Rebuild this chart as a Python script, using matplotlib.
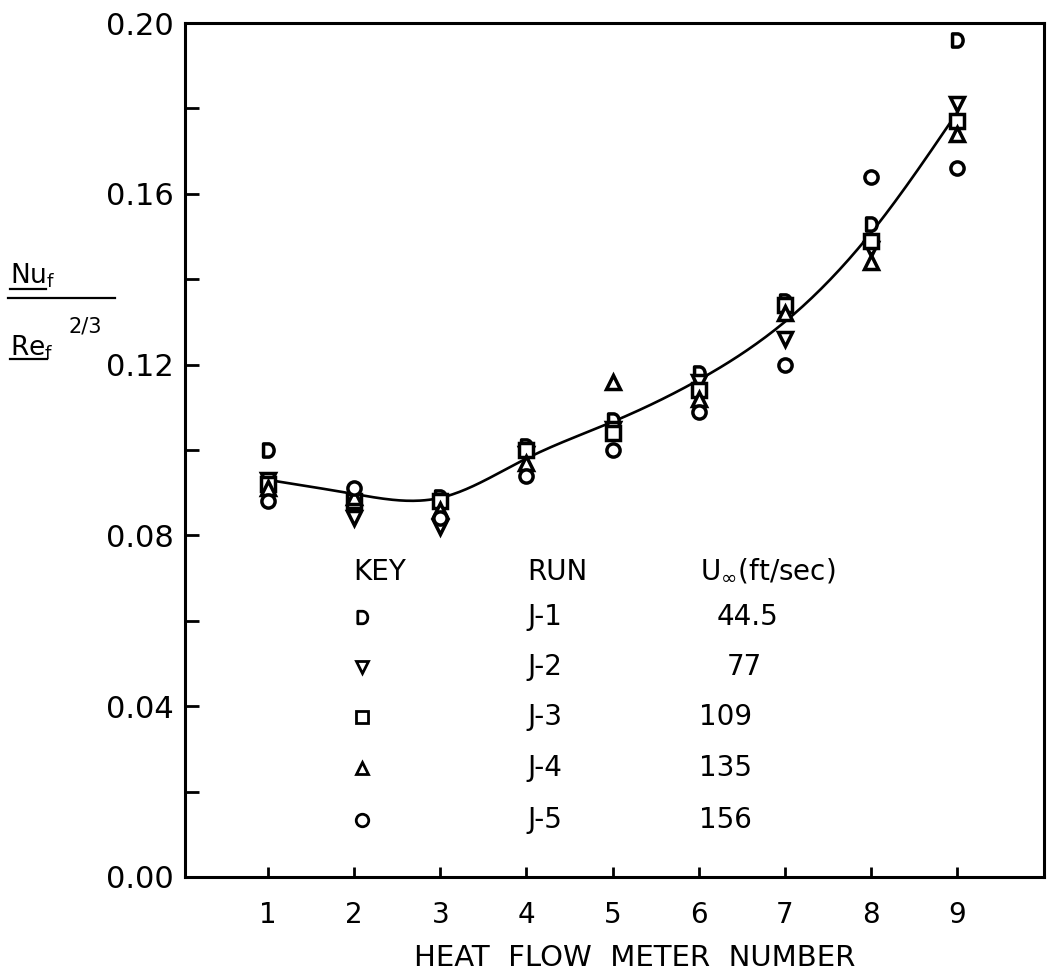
import numpy as np
import matplotlib
matplotlib.use("Agg")
import matplotlib.pyplot as plt
from matplotlib.path import Path
from matplotlib.lines import Line2D

# heat flow meter numbers
meters = [1, 2, 3, 4, 5, 6, 7, 8, 9]

# Nu_f / Re_f^(2/3) for each run
j1 = [0.100, 0.087, 0.089, 0.101, 0.107, 0.118, 0.135, 0.153, 0.196]
j2 = [0.093, 0.084, 0.082, 0.099, 0.105, 0.116, 0.126, 0.147, 0.181]
j3 = [0.092, 0.088, 0.088, 0.100, 0.104, 0.114, 0.134, 0.149, 0.177]
j4 = [0.091, 0.089, 0.086, 0.097, 0.116, 0.112, 0.132, 0.144, 0.174]
j5 = [0.088, 0.091, 0.084, 0.094, 0.100, 0.109, 0.120, 0.164, 0.166]

# faired curve through the data
curve_y = [0.093, 0.0897, 0.0888, 0.098, 0.1066, 0.1164, 0.130, 0.1508, 0.179]

runs = ["J-1", "J-2", "J-3", "J-4", "J-5"]
speeds = ["44.5", "77", "109", "135", "156"]

W, H = 1052, 980


def d_marker():
    # open "D" shaped symbol used for run J-1
    arc = Path.arc(-90, 90)
    verts = [(v[0] * 0.85, v[1]) for v in arc.vertices]
    codes = list(arc.codes)
    verts += [(-0.75, 1.0), (-0.75, -1.0), (0, 0)]
    codes += [Path.LINETO, Path.LINETO, Path.CLOSEPOLY]
    return Path(verts, codes)


def natural_spline(xk, yk, xs):
    xk = np.asarray(xk, float)
    yk = np.asarray(yk, float)
    n = len(xk)
    h = np.diff(xk)
    A = np.zeros((n, n))
    b = np.zeros(n)
    A[0, 0] = A[-1, -1] = 1
    for i in range(1, n - 1):
        A[i, i - 1] = h[i - 1]
        A[i, i] = 2 * (h[i - 1] + h[i])
        A[i, i + 1] = h[i]
        b[i] = 6 * ((yk[i + 1] - yk[i]) / h[i] - (yk[i] - yk[i - 1]) / h[i - 1])
    M = np.linalg.solve(A, b)
    out = np.empty_like(xs)
    for j, x in enumerate(xs):
        i = min(max(np.searchsorted(xk, x) - 1, 0), n - 2)
        t1 = xk[i + 1] - x
        t0 = x - xk[i]
        out[j] = (M[i] * t1 ** 3 + M[i + 1] * t0 ** 3) / (6 * h[i]) \
            + (yk[i] / h[i] - M[i] * h[i] / 6) * t1 \
            + (yk[i + 1] / h[i] - M[i + 1] * h[i] / 6) * t0
    return out


plt.rcParams['font.family'] = ['DejaVu Sans']
plt.rcParams['mathtext.fontset'] = 'dejavusans'

fig = plt.figure(figsize=(W / 100, H / 100), dpi=100)
ax = fig.add_axes([185 / W, 1 - 877 / H, (1044 - 185) / W, (877 - 23) / H])

xs = np.linspace(1, 9, 300)
ax.plot(xs, natural_spline(meters, curve_y, xs), color='black', lw=1.9, zorder=2)

markers = [d_marker(), 'v', 's', '^', 'o']
series = [j1, j2, j3, j4, j5]
mk = dict(color='black', mfc='white', mec='black', mew=2.5, ms=9.5, ls='none', zorder=3)
for m, s in zip(markers, series):
    ax.plot(meters, s, marker=m, **mk)

# key table
key_x, run_x, u_x = 1.99, 4.01, 6.02
head_y = 0.0715
row_y = [0.0609, 0.0492, 0.0375, 0.0255, 0.0133]
speed_x = [6.21, 6.33, 6.0, 6.0, 6.0]
fs = 20
ax.text(key_x, head_y, "KEY", fontsize=fs, ha='left', va='center')
ax.text(run_x, head_y, "RUN", fontsize=fs, ha='left', va='center')
ax.text(u_x, head_y, r"U$_\infty$(ft/sec)", fontsize=fs, ha='left', va='center')
for i in range(5):
    ax.plot([2.09], [row_y[i]], marker=markers[i], color='black', mfc='white',
            mec='black', mew=2.0, ms=9, ls='none')
    ax.text(run_x, row_y[i], runs[i], fontsize=fs, ha='left', va='center')
    ax.text(speed_x[i], row_y[i], speeds[i], fontsize=fs, ha='left', va='center')

ax.set_xlim(0.036, 10.01)
ax.set_ylim(0, 0.20)
ax.set_xticks(meters)
ax.set_xticklabels([str(m) for m in meters])
ax.set_yticks(np.arange(0, 0.201, 0.04))
ax.set_yticklabels([f"{v:.2f}" for v in np.arange(0, 0.201, 0.04)])
ax.set_yticks(np.arange(0.02, 0.20, 0.04), minor=True)
ax.tick_params(axis='y', which='both', direction='in', length=10, width=2, labelsize=22, pad=8)
ax.tick_params(axis='x', direction='in', length=7, width=2, labelsize=20, pad=17)
for sp in ax.spines.values():
    sp.set_linewidth(2.2)

fig.text(635 / W, 1 - 958 / H, "HEAT  FLOW  METER  NUMBER", fontsize=21,
         ha='center', va='center')

# y label as a fraction
fig.text(10 / W, 1 - 284 / H, r"Nu$_\mathregular{f}$", fontsize=19, ha='left', va='baseline')
fig.text(10 / W, 1 - 355 / H, r"Re$_\mathregular{f}$", fontsize=19, ha='left', va='baseline')
fig.text(68 / W, 1 - 332 / H, "2/3", fontsize=15, ha='left', va='baseline')
fig.add_artist(Line2D([8 / W, 115 / W], [1 - 298 / H, 1 - 298 / H], color='black', lw=1.6))
fig.add_artist(Line2D([10 / W, 46 / W], [1 - 289 / H, 1 - 289 / H], color='black', lw=1.6))
fig.add_artist(Line2D([10 / W, 47 / W], [1 - 359 / H, 1 - 359 / H], color='black', lw=1.6))

fig.savefig("out.png", dpi=100)
